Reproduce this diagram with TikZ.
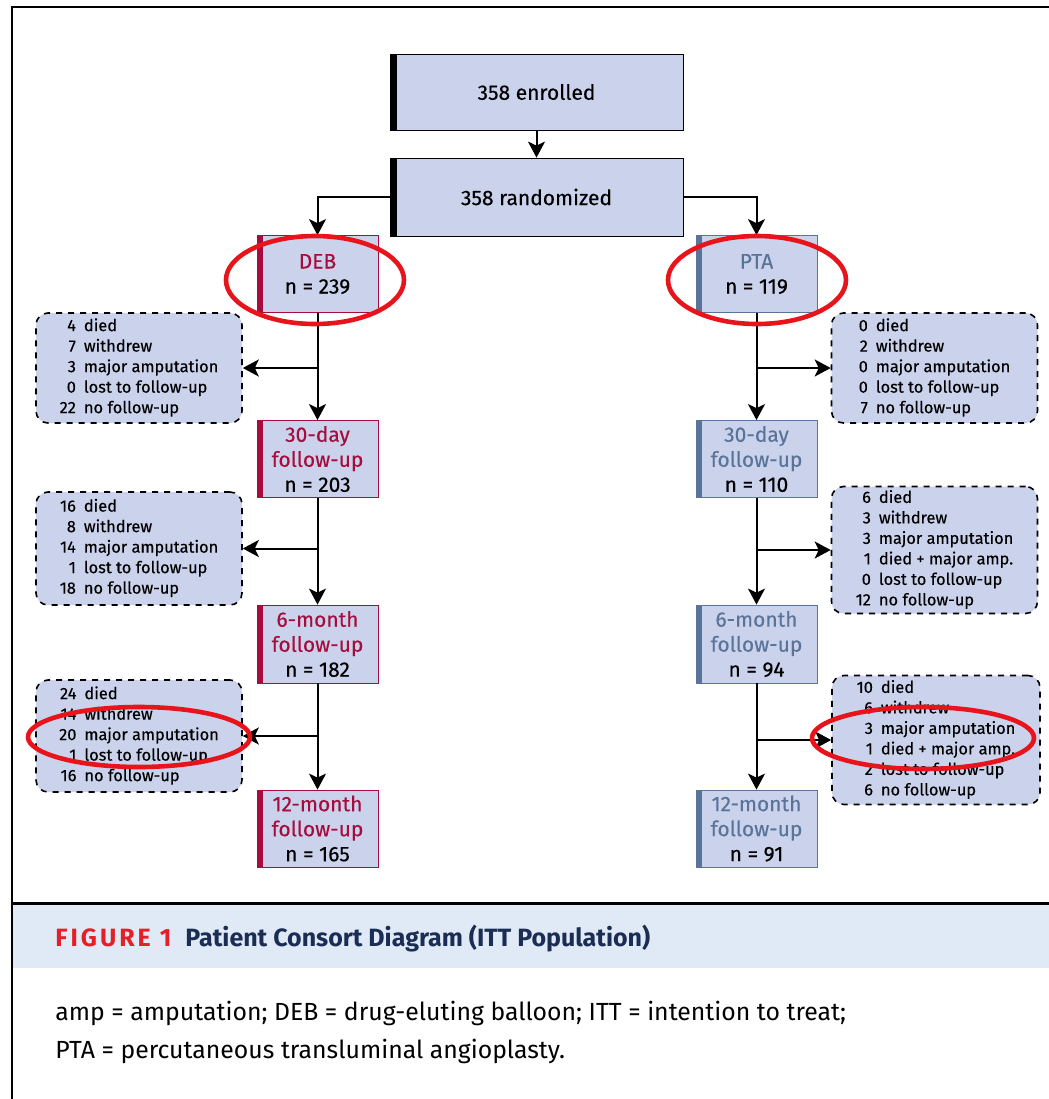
\documentclass[tikz,border=0pt]{standalone}
\usepackage{fontspec}
\setmainfont{Fira Sans}
\newfontfamily\boxface[FakeBold=0.3]{Fira Sans}
\usetikzlibrary{positioning}
\usetikzlibrary{arrows.meta}
\definecolor{boxfill}{HTML}{CBD3EC}
\definecolor{debred}{HTML}{A60D3E}
\definecolor{ptablue}{HTML}{5A7399}
\definecolor{ringred}{HTML}{E8141B}
\definecolor{bandblue}{HTML}{E0EAF6}
\definecolor{figred}{HTML}{E3202A}
\definecolor{navy}{HTML}{1B2D55}
\newcommand{\boxfont}{\boxface\fontsize{10.5}{12.5}\selectfont}
\newcommand{\sidefont}{\boxface\fontsize{8.2}{10.25}\selectfont}
\tikzset{
    mainbox/.style = {rectangle, draw=black, fill=boxfill, inner sep=0pt, minimum width=146.5pt, minimum height=38pt, font=\boxfont,
        path picture={\fill[black] (path picture bounding box.south west) rectangle ([xshift=3.5pt]path picture bounding box.north west);}},
    debbox/.style = {rectangle, draw=debred, fill=boxfill, inner sep=0pt, minimum width=60.5pt, minimum height=38.5pt, align=center, font=\boxfont,
        path picture={\fill[debred] (path picture bounding box.south west) rectangle ([xshift=3pt]path picture bounding box.north west);}},
    ptabox/.style = {rectangle, draw=ptablue, fill=boxfill, inner sep=0pt, minimum width=60.5pt, minimum height=38.5pt, align=center, font=\boxfont,
        path picture={\fill[ptablue] (path picture bounding box.south west) rectangle ([xshift=3pt]path picture bounding box.north west);}},
    sidebox/.style = {rectangle, rounded corners=6pt, draw=black, dashed, thick, fill=boxfill, inner sep=0pt, minimum width=103pt, font=\sidefont},
    edgen/.style = {-{Stealth[length=8pt,width=8.5pt,inset=2pt]}, line width=1pt},
    ring/.style = {draw=ringred, line width=2.3pt},
}
\newcommand{\Dt}[1]{\textcolor{debred}{#1}}
\newcommand{\Pt}[1]{\textcolor{ptablue}{#1}}

\begin{document}
\begin{tikzpicture}[x=0.5pt,y=-0.5pt]
\useasboundingbox (0,0) rectangle (1049,1099);
% frame and caption band
\fill[bandblue] (12,905) rectangle (1049,968);
\draw[line width=1pt] (1049,7) -- (12,7) -- (12,1099);
\draw[line width=1.5pt] (12,903) -- (1049,903);
%
\node[mainbox] at (536.5, 92) (enrol) {358 enrolled};
\node[mainbox, minimum height=39pt] at (536.5, 197) (rand) {358 randomized};
%
\node[debbox] at (317.5, 274) (deb) {\Dt{DEB}\\n = 239};
\node[debbox] at (317.5, 459) (d30) {\Dt{30-day}\\\Dt{follow-up}\\n = 203};
\node[debbox, minimum height=39pt] at (317.5, 644) (d6) {\Dt{6-month}\\\Dt{follow-up}\\n = 182};
\node[debbox] at (317.5, 828.5) (d12) {\Dt{12-month}\\\Dt{follow-up}\\n = 165};
%
\node[ptabox] at (756.5, 274) (pta) {\Pt{PTA}\\n = 119};
\node[ptabox] at (756.5, 459) (p30) {\Pt{30-day}\\\Pt{follow-up}\\n = 110};
\node[ptabox, minimum height=39pt] at (756.5, 644) (p6) {\Pt{6-month}\\\Pt{follow-up}\\n = 94};
\node[ptabox] at (756.5, 828.5) (p12) {\Pt{12-month}\\\Pt{follow-up}\\n = 91};
%
\node[sidebox, minimum height=55pt] at (139, 368) (dx1) {\begin{tabular}{@{}r@{\hspace{4pt}}l@{}}
4 & died\\ 7 & withdrew\\ 3 & major amputation\\ 0 & lost to follow-up\\ 22 & no follow-up\end{tabular}};
\node[sidebox, minimum height=56.5pt] at (139, 548.5) (dx2) {\begin{tabular}{@{}r@{\hspace{4pt}}l@{}}
16 & died\\ 8 & withdrew\\ 14 & major amputation\\ 1 & lost to follow-up\\ 18 & no follow-up\end{tabular}};
\node[sidebox, minimum height=56pt] at (139, 736) (dx3) {\begin{tabular}{@{}r@{\hspace{4pt}}l@{}}
24 & died\\ 14 & withdrew\\ 20 & major amputation\\ 1 & lost to follow-up\\ 16 & no follow-up\end{tabular}};
\node[sidebox, minimum height=55pt] at (934.5, 368) (px1) {\begin{tabular}{@{}r@{\hspace{4pt}}l@{}}
0 & died\\ 2 & withdrew\\ 0 & major amputation\\ 0 & lost to follow-up\\ 7 & no follow-up\end{tabular}};
\node[sidebox, minimum height=63.5pt] at (934.5, 550) (px2) {\begin{tabular}{@{}r@{\hspace{4pt}}l@{}}
6 & died\\ 3 & withdrew\\ 3 & major amputation\\ 1 & died + major amp.\\ 0 & lost to follow-up\\ 12 & no follow-up\end{tabular}};
\node[sidebox, minimum height=64.5pt, minimum width=104pt] at (936, 740) (px3) {\begin{tabular}{@{}r@{\hspace{4pt}}l@{}}
10 & died\\ 6 & withdrew\\ 3 & major amputation\\ 1 & died + major amp.\\ 2 & lost to follow-up\\ 6 & no follow-up\end{tabular}};
%
\draw[edgen] (enrol) -- (rand);
\draw[edgen] (rand.west) -| (deb.north);
\draw[edgen] (rand.east) -| (pta.north);
\draw[edgen] (deb) -- (d30);
\draw[edgen] (d30) -- (d6);
\draw[edgen] (d6) -- (d12);
\draw[edgen] (pta) -- (p30);
\draw[edgen] (p30) -- (p6);
\draw[edgen] (p6) -- (p12);
\draw[edgen] (deb.south |- dx1.east) -- (dx1.east);
\draw[edgen] (d30.south |- dx2.east) -- (dx2.east);
\draw[edgen] (d6.south |- dx3.east) -- (dx3.east);
\draw[edgen] (pta.south |- px1.west) -- (px1.west);
\draw[edgen] (p30.south |- px2.west) -- (px2.west);
\draw[edgen] (p6.south |- px3.west) -- (px3.west);
% highlights
\draw[ring] (315, 280) ellipse [x radius=89, y radius=44];
\draw[ring] (757, 280) ellipse [x radius=89, y radius=44];
\draw[ring] (139, 737) ellipse [x radius=111, y radius=30];
\draw[ring] (923, 738) ellipse [x radius=111, y radius=31];
% caption
\node[anchor=base west, inner sep=0pt, font=\bfseries\fontsize{12.5}{14}\selectfont] at (55, 946) (cap)
  {\textcolor{figred}{\addfontfeature{LetterSpace=12}FIGURE 1}\hspace{7pt}\textcolor{navy}{Patient Consort Diagram (ITT Population)}};
\node[anchor=base west, inner sep=0pt, font=\fontsize{12.4}{15}\selectfont] at (55, 1020) (legend1)
  {amp = amputation; DEB = drug-eluting balloon; ITT = intention to treat;};
\node[anchor=base west, inner sep=0pt, font=\fontsize{12.4}{15}\selectfont] at (55, 1058) (legend2)
  {PTA = percutaneous transluminal angioplasty.};
\end{tikzpicture}
\end{document}
